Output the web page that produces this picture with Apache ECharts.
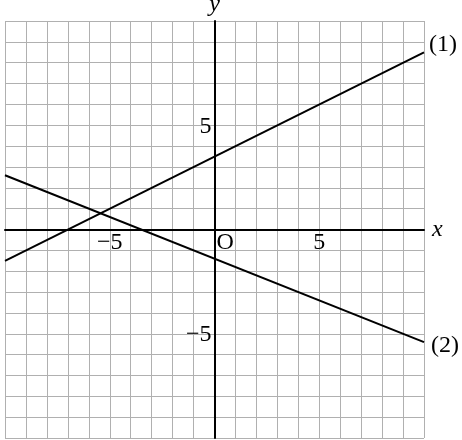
<!DOCTYPE html>
<html>
<head>
<meta charset="utf-8">
<script src="https://cdn.jsdelivr.net/npm/echarts@6/dist/echarts.min.js"></script>
<style>
  html, body { margin: 0; padding: 0; background: #fff; }
  #main { width: 462px; height: 440px; }
</style>
</head>
<body>
<div id="main"></div>
<script>
// 数据：两条直线的端点
var xEnds = [-10, 10]
var line1Y = [-1.5, 8.5]
var line2Y = [2.6, -5.4]
var lineNames = ['(1)', '(2)']
// 刻度标签
var xTicks = [-5, 5]
var yTicks = [5, -5]

var font = '"Liberation Serif", "DejaVu Serif", serif'

function pairs(xs, ys) {
  return xs.map(function (x, i) { return [x, ys[i]] })
}
function fmt(v) {
  return v < 0 ? '\u2212' + (-v) : String(v)
}

var myChart = echarts.init(document.getElementById('main'))

var axisCommon = {
  type: 'value',
  min: -10,
  max: 10,
  interval: 1,
  axisLine: { show: true, onZero: true, lineStyle: { color: '#000', width: 2 } },
  axisTick: { show: false },
  axisLabel: { show: false },
  splitLine: { show: true, lineStyle: { color: '#b0b0b0', width: 1 } },
  nameTextStyle: { fontFamily: font, fontStyle: 'italic', fontSize: 24, color: '#000' }
}

var option = {
  backgroundColor: '#fff',
  animation: false,
  grid: { left: 5, right: 38, top: 21, bottom: 2, outerBoundsMode: 'none', containLabel: false },
  xAxis: Object.assign({}, axisCommon, {
    name: 'x',
    nameLocation: 'end',
    nameGap: 8
  }),
  yAxis: Object.assign({}, axisCommon, {
    name: 'y',
    nameLocation: 'end',
    nameGap: 4
  }),
  series: [
    {
      type: 'line',
      data: pairs(xEnds, line1Y),
      showSymbol: false,
      lineStyle: { color: '#000', width: 2 },
      endLabel: {
        show: true, formatter: lineNames[0], distance: 5, offset: [0, -8],
        fontFamily: font, fontSize: 24, color: '#000'
      }
    },
    {
      type: 'line',
      data: pairs(xEnds, line2Y),
      showSymbol: false,
      lineStyle: { color: '#000', width: 2 },
      endLabel: {
        show: true, formatter: lineNames[1], distance: 7, offset: [0, 4],
        fontFamily: font, fontSize: 24, color: '#000'
      }
    }
  ]
}
myChart.setOption(option)

// 刻度标签和原点 O
var labelFont = '24px ' + font
var origin = myChart.convertToPixel({ gridIndex: 0 }, [0, 0])
var texts = []
xTicks.forEach(function (v) {
  var p = myChart.convertToPixel({ gridIndex: 0 }, [v, 0])
  texts.push({
    type: 'text', x: p[0], y: origin[1] + 1,
    style: { text: fmt(v), font: labelFont, fill: '#000', align: 'center', verticalAlign: 'top' }
  })
})
yTicks.forEach(function (v) {
  var p = myChart.convertToPixel({ gridIndex: 0 }, [0, v])
  texts.push({
    type: 'text', x: origin[0] - 3, y: p[1] + 1,
    style: { text: fmt(v), font: labelFont, fill: '#000', align: 'right', verticalAlign: 'middle' }
  })
})
texts.push({
  type: 'text', x: origin[0] + 2, y: origin[1] + 1,
  style: { text: 'O', font: labelFont, fill: '#000', align: 'left', verticalAlign: 'top' }
})
myChart.setOption({ graphic: texts })
</script>
</body>
</html>
